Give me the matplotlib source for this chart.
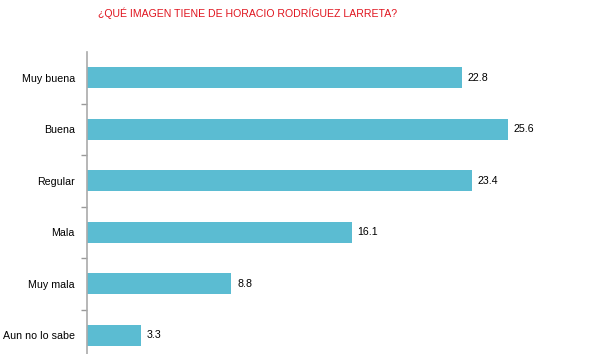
import matplotlib.pyplot as plt

categories = ["Muy buena", "Buena", "Regular", "Mala", "Muy mala", "Aun no lo sabe"]
values = [22.8, 25.6, 23.4, 16.1, 8.8, 3.3]
title = "¿QUÉ IMAGEN TIENE DE HORACIO RODRÍGUEZ LARRETA?"

plt.rcParams['font.family'] = ['Liberation Sans', 'DejaVu Sans']

fig = plt.figure(figsize=(6.15, 3.54), dpi=100)
ax = fig.add_axes([0.141, -0.02, 0.8025, 0.873])

y = list(range(len(categories)))
ax.barh(y, values, height=0.41, color="#5bbcd2")
for yi, v in zip(y, values):
    ax.text(v + 0.37, yi, f"{v:.1f}", va="center", ha="left", fontsize=7.7, color="black")

ax.set_xlim(0, 30)
ax.set_ylim(5.5, -0.5)
ax.set_yticks(y)
ax.set_yticklabels(categories, fontsize=7.7)
ax.tick_params(axis="y", which="major", length=0, pad=8.5)
ax.set_yticks([i + 0.5 for i in range(len(categories) - 1)], minor=True)
ax.tick_params(axis="y", which="minor", length=4, color="#999999", width=1)
ax.set_xticks([])
for s in ["top", "right", "bottom"]:
    ax.spines[s].set_visible(False)
ax.spines["left"].set_color("#aaaaaa")
ax.spines["left"].set_linewidth(1.2)

fig.text(0.403, 0.962, title, ha="center", va="center", color="#e0141e", fontsize=7.6)

fig.savefig("out.png", dpi=100)
